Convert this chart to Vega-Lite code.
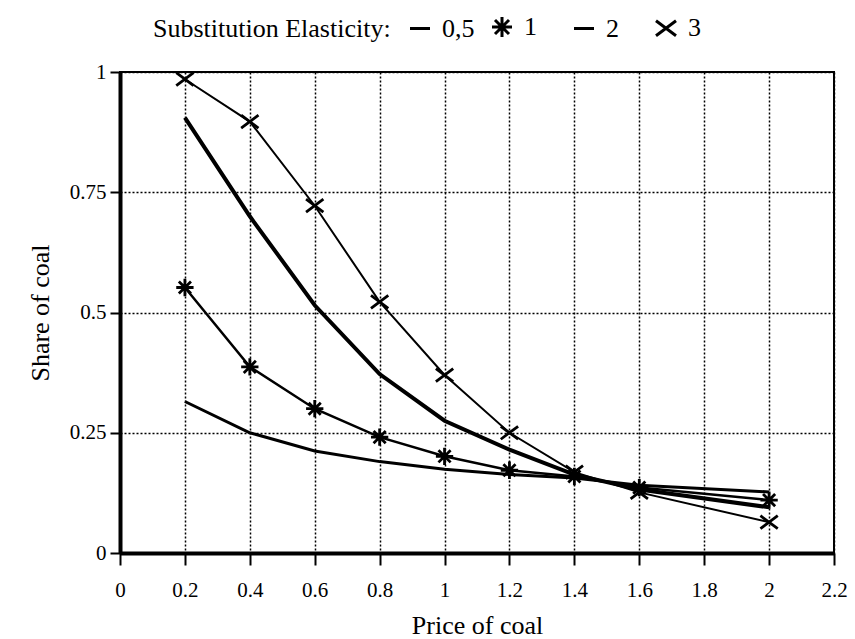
{
  "$schema": "https://vega.github.io/schema/vega-lite/v6.json",
  "width": 714,
  "height": 481,
  "autosize": "none",
  "padding": {"left": 120, "top": 72, "right": 21, "bottom": 86},
  "background": "white",
  "data": {
    "values": [
      {"p": 0.2, "share": 0.315, "sigma": "0,5"},
      {"p": 0.4, "share": 0.25, "sigma": "0,5"},
      {"p": 0.6, "share": 0.212, "sigma": "0,5"},
      {"p": 0.8, "share": 0.19, "sigma": "0,5"},
      {"p": 1.0, "share": 0.174, "sigma": "0,5"},
      {"p": 1.2, "share": 0.163, "sigma": "0,5"},
      {"p": 1.4, "share": 0.156, "sigma": "0,5"},
      {"p": 1.6, "share": 0.141, "sigma": "0,5"},
      {"p": 2.0, "share": 0.127, "sigma": "0,5"},
      {"p": 0.2, "share": 0.552, "sigma": "1"},
      {"p": 0.4, "share": 0.387, "sigma": "1"},
      {"p": 0.6, "share": 0.3, "sigma": "1"},
      {"p": 0.8, "share": 0.241, "sigma": "1"},
      {"p": 1.0, "share": 0.201, "sigma": "1"},
      {"p": 1.2, "share": 0.172, "sigma": "1"},
      {"p": 1.4, "share": 0.159, "sigma": "1"},
      {"p": 1.6, "share": 0.136, "sigma": "1"},
      {"p": 2.0, "share": 0.11, "sigma": "1"},
      {"p": 0.2, "share": 0.905, "sigma": "2"},
      {"p": 0.4, "share": 0.7, "sigma": "2"},
      {"p": 0.6, "share": 0.515, "sigma": "2"},
      {"p": 0.8, "share": 0.372, "sigma": "2"},
      {"p": 1.0, "share": 0.275, "sigma": "2"},
      {"p": 1.2, "share": 0.215, "sigma": "2"},
      {"p": 1.4, "share": 0.163, "sigma": "2"},
      {"p": 1.6, "share": 0.132, "sigma": "2"},
      {"p": 2.0, "share": 0.095, "sigma": "2"},
      {"p": 0.2, "share": 0.985, "sigma": "3"},
      {"p": 0.4, "share": 0.897, "sigma": "3"},
      {"p": 0.6, "share": 0.722, "sigma": "3"},
      {"p": 0.8, "share": 0.522, "sigma": "3"},
      {"p": 1.0, "share": 0.37, "sigma": "3"},
      {"p": 1.2, "share": 0.25, "sigma": "3"},
      {"p": 1.4, "share": 0.168, "sigma": "3"},
      {"p": 1.6, "share": 0.126, "sigma": "3"},
      {"p": 2.0, "share": 0.064, "sigma": "3"}
    ]
  },
  "encoding": {
    "x": {
      "field": "p", "type": "quantitative",
      "scale": {"domain": [0, 2.2], "nice": false, "zero": false},
      "axis": {"title": "Price of coal", "values": [0, 0.2, 0.4, 0.6, 0.8, 1, 1.2, 1.4, 1.6, 1.8, 2, 2.2], "format": ".1~f", "labelPadding": 14, "titlePadding": 12, "labelFlush": false, "tickSize": 12}
    },
    "y": {
      "field": "share", "type": "quantitative",
      "scale": {"domain": [0, 1], "nice": false},
      "axis": {"title": "Share of coal", "values": [0, 0.25, 0.5, 0.75, 1], "format": ".2~f", "labelPadding": 4, "titlePadding": 16, "labelFlush": false, "tickSize": 10}
    }
  },
  "layer": [
    {
      "transform": [{"filter": {"field": "sigma", "equal": "0,5"}}],
      "mark": {"type": "line", "color": "black", "strokeWidth": 3}
    },
    {
      "transform": [{"filter": {"field": "sigma", "equal": "1"}}],
      "mark": {"type": "line", "color": "black", "strokeWidth": 2.5}
    },
    {
      "transform": [{"filter": {"field": "sigma", "equal": "2"}}],
      "mark": {"type": "line", "color": "black", "strokeWidth": 4}
    },
    {
      "transform": [{"filter": {"field": "sigma", "equal": "3"}}],
      "mark": {"type": "line", "color": "black", "strokeWidth": 2}
    },
    {
      "transform": [{"filter": {"field": "sigma", "oneOf": ["1", "3"]}}],
      "mark": {"type": "point", "filled": false, "color": "black", "strokeWidth": 2.8, "size": 300, "opacity": 1},
      "encoding": {
        "shape": {
          "field": "sigma", "type": "nominal",
          "scale": {
            "domain": ["0,5", "1", "2", "3"],
            "range": [
              "M-1,0L1,0",
              "M-1,0L1,0M0,-1L0,1M-0.7,-0.7L0.7,0.7M-0.7,0.7L0.7,-0.7",
              "M-1,0L1,0",
              "M-1,-0.75L1,0.75M-1,0.75L1,-0.75"
            ]
          },
          "legend": {
            "title": "Substitution Elasticity:",
            "orient": "none",
            "legendX": 33,
            "legendY": -58,
            "direction": "horizontal",
            "titleOrient": "left",
            "columns": 4,
            "gridAlign": "all",
            "columnPadding": 11,
            "symbolSize": 400,
            "symbolStrokeWidth": 3,
            "symbolStrokeColor": "black",
            "symbolFillColor": "transparent",
            "symbolOpacity": 1,
            "labelOffset": 9,
            "titlePadding": 16
          }
        }
      }
    }
  ],
  "config": {
    "view": {"stroke": "black", "strokeWidth": 2},
    "font": "Liberation Serif",
    "axis": {
      "domainColor": "black",
      "domainWidth": 4,
      "tickColor": "black",
      "tickWidth": 2,
      "labelColor": "black",
      "labelFont": "Liberation Serif",
      "labelFontSize": 21,
      "titleFont": "Liberation Serif",
      "titleFontSize": 26,
      "titleFontWeight": "normal",
      "titleColor": "black",
      "grid": true,
      "gridColor": "black",
      "gridDash": [2, 2],
      "gridWidth": 1.5,
      "gridOpacity": 1
    },
    "legend": {
      "labelFont": "Liberation Serif",
      "labelFontSize": 26,
      "labelColor": "black",
      "titleFont": "Liberation Serif",
      "titleFontSize": 26,
      "titleFontWeight": "normal",
      "titleColor": "black",
      "titleLimit": 400
    }
  }
}
